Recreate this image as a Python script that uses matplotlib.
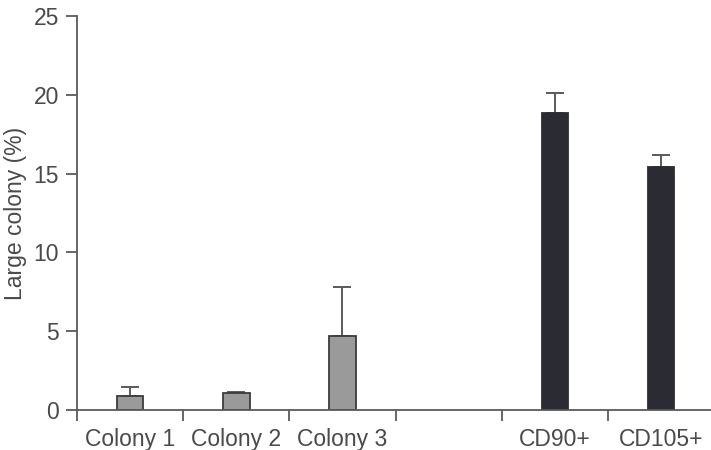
import numpy as np
import matplotlib
matplotlib.use("Agg")
import matplotlib.pyplot as plt

plt.rcParams['font.family'] = ['Liberation Sans', 'DejaVu Sans']

# =====================================================
# Data
# =====================================================

categories = ['Colony 1', 'Colony 2', 'Colony 3', '', 'CD90+', 'CD105+']
values = [0.9, 1.05, 4.7, np.nan, 18.85, 15.45]
errors = [0.55, 0.08, 3.1, np.nan, 1.25, 0.7]
groups = ['colony', 'colony', 'colony', 'none', 'cd', 'cd']

colours = {'colony': '#9a9a9a', 'cd': '#2b2b33', 'none': 'none'}
edges = {'colony': '#3c3c3c', 'cd': '#2b2b33', 'none': 'none'}

AXIS = '#5a5a5a'
TEXT = '#4a4a4a'
FS = 16.5

# =====================================================
# Plot
# =====================================================

fig = plt.figure(figsize=(7.11, 4.5), dpi=100)
ax = fig.add_axes([0.1083, 0.0889, 0.896, 0.8755])

x = np.arange(len(categories))

for i in x:
    if groups[i] == 'none':
        continue
    ax.bar(x[i], values[i], width=0.25,
           color=colours[groups[i]], edgecolor=edges[groups[i]],
           linewidth=1.3, zorder=2)
    ax.errorbar(x[i], values[i], yerr=[[0], [errors[i]]],
                fmt='none', ecolor=AXIS, elinewidth=1.4,
                capsize=6.5, capthick=1.4, zorder=1)

ax.set_xlim(-0.5, len(categories) - 0.5)
ax.set_ylim(0, 25)
ax.set_yticks(np.arange(0, 26, 5))

# labels at centres, tick marks at boundaries
ax.set_xticks(x)
ax.set_xticklabels(categories)
ax.set_xticks(np.arange(-0.5, len(categories) - 0.5), minor=True)
ax.tick_params(axis='x', which='major', length=0, pad=13,
               labelsize=FS, labelcolor=TEXT)
ax.tick_params(axis='x', which='minor', length=8, width=1.3,
               color=AXIS, direction='out')
ax.tick_params(axis='y', length=8, width=1.3, color=AXIS,
               labelsize=FS, labelcolor=TEXT, pad=5)

for side in ['top', 'right']:
    ax.spines[side].set_visible(False)
for side in ['left', 'bottom']:
    ax.spines[side].set_color(AXIS)
    ax.spines[side].set_linewidth(1.3)

ax.set_ylabel('Large colony (%)', fontsize=FS, color=TEXT)
ax.yaxis.set_label_coords(-0.079, 0.5)

fig.savefig('out.png', dpi=100)
